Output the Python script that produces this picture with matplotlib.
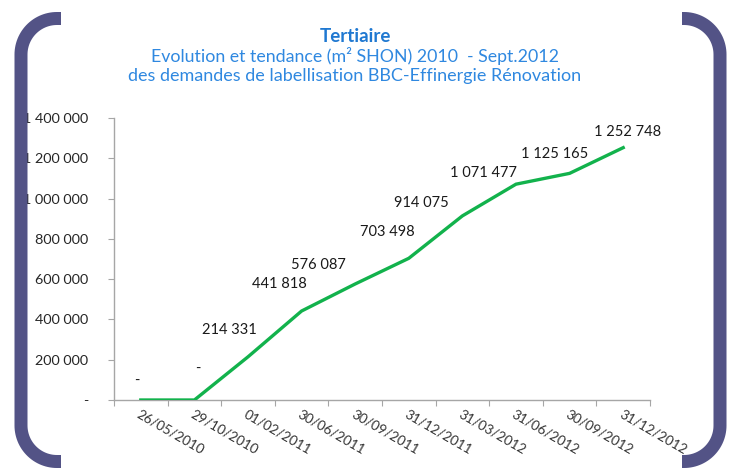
import numpy as np
import matplotlib
matplotlib.use("Agg")
import matplotlib.pyplot as plt

# ---- data ----
categories = ["26/05/2010", "29/10/2010", "01/02/2011", "30/06/2011", "30/09/2011",
              "31/12/2011", "31/03/2012", "31/06/2012", "30/09/2012", "31/12/2012"]
values = [0, 0, 214331, 441818, 576087, 703498, 914075, 1071477, 1125165, 1252748]
value_labels = ["-", "-", "214 331", "441 818", "576 087", "703 498", "914 075",
                "1 071 477", "1 125 165", "1 252 748"]
yticks = [0, 200000, 400000, 600000, 800000, 1000000, 1200000, 1400000]
ytick_labels = ["-", "200 000", "400 000", "600 000", "800 000", "1 000 000",
                "1 200 000", "1 400 000"]
title1 = "Tertiaire"
title2 = "Evolution et tendance (m² SHON) 2010  - Sept.2012"
title3 = "des demandes de labellisation BBC-Effinergie Rénovation"

# label offsets in pixels (dx, dy up)
label_offsets = [(-4, 19), (3, 31), (-19, 27), (-22, 27), (-37, 19), (-21, 26),
                 (-41, 13), (-33, 11), (-15, 19), (4, 16)]

FONT = ["Lato", "DejaVu Sans"]
plt.rcParams["font.family"] = FONT

W, H = 736, 468
fig = plt.figure(figsize=(W / 100, H / 100), dpi=100)
fig.patch.set_facecolor("white")

ax = fig.add_axes([114 / W, 1 - 400 / H, (650 - 114) / W, (400 - 118) / H])
x = np.arange(len(categories))
ax.plot(x, values, color="#12b24c", lw=2.4, solid_joinstyle="miter", zorder=3)
ax.set_xlim(-0.5, len(categories) - 0.5)
ax.set_ylim(0, 1400000)

for xi, v, lab, (dx, dy) in zip(x, values, value_labels, label_offsets):
    ax.annotate(lab, (xi, v), xytext=(dx, dy), textcoords="offset pixels",
                ha="center", va="center", fontsize=10.5, color="#1a1a1a",
                annotation_clip=False)

for s in ["top", "right"]:
    ax.spines[s].set_visible(False)
for s in ["left", "bottom"]:
    ax.spines[s].set_color("#a6a6a6")
    ax.spines[s].set_linewidth(1.0)

ax.set_yticks(yticks)
ax.set_yticklabels(ytick_labels, fontsize=10.4, color="#262626")
ax.tick_params(axis="y", length=4.3, width=0.8, color="#a6a6a6", pad=14)

ax.set_xticks(x)
ax.set_xticklabels(categories, rotation=-30, ha="left", rotation_mode="anchor",
                   fontsize=9.8, color="#333333")
ax.tick_params(axis="x", which="major", length=0, pad=6)
ax.set_xticks(np.arange(len(categories) + 1) - 0.5, minor=True)
ax.tick_params(axis="x", which="minor", length=4, width=0.8, color="#a6a6a6")

# titles
fig.text(355 / W, 1 - 37 / H, title1, ha="center", va="center", fontsize=13.5,
         fontweight="bold", color="#1f78d1")
fig.text(355 / W, 1 - 56 / H, title2, ha="center", va="center", fontsize=12.8,
         color="#2f88e0")
fig.text(355 / W, 1 - 76 / H, title3, ha="center", va="center", fontsize=13.0,
         color="#2f88e0")

# decorative brackets
ov = fig.add_axes([0, 0, 1, 1], zorder=10)
ov.set_xlim(0, W)
ov.set_ylim(H, 0)
ov.axis("off")
ov.patch.set_alpha(0)


def bracket(xv, xend, ytop, ybot, R):
    sgn = 1 if xend > xv else -1
    pts = [(xend, ytop)]
    ang = np.linspace(0, np.pi / 2, 30)
    for a in ang:
        pts.append((xv + sgn * R - sgn * R * np.sin(a), ytop + R - R * np.cos(a)))
    for a in ang:
        pts.append((xv + sgn * R - sgn * R * np.cos(a), ybot - R + R * np.sin(a)))
    pts.append((xend, ybot))
    pts = np.array(pts)
    ov.plot(pts[:, 0], pts[:, 1], color="#535386", lw=13 * 0.72,
            solid_capstyle="butt", solid_joinstyle="round")


bracket(21, 61, 18.5, 461.5, 36)
bracket(720, 682, 18.5, 461.5, 36)

fig.savefig("out.png", dpi=100, facecolor="white")
